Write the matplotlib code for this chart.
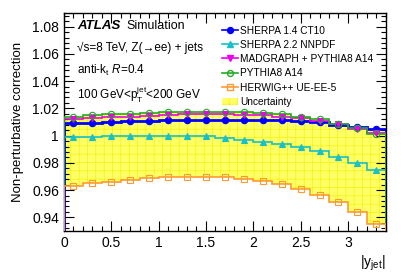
import numpy as np
import matplotlib
matplotlib.use("Agg")
import matplotlib.pyplot as plt
from matplotlib.lines import Line2D
from matplotlib.patches import Patch
from matplotlib.ticker import MultipleLocator, FuncFormatter

plt.rcParams['font.family'] = ['Liberation Sans', 'DejaVu Sans']
plt.rcParams['hatch.linewidth'] = 0.4
plt.rcParams['mathtext.fontset'] = 'custom'
plt.rcParams['mathtext.rm'] = 'Liberation Sans'
plt.rcParams['mathtext.it'] = 'Liberation Sans:italic'

edges = np.round(np.arange(0, 3.41, 0.2), 2)
centers = (edges[:-1] + edges[1:]) / 2

sherpa14 = [1.009, 1.0095, 1.010, 1.0105, 1.011, 1.0112, 1.0112, 1.0112, 1.0112,
            1.0112, 1.0112, 1.0112, 1.0108, 1.0098, 1.008, 1.0065, 1.005]
sherpa22 = [0.9987, 0.9993, 1.000, 1.000, 1.000, 1.000, 1.000, 0.9995, 0.9985,
            0.997, 0.9955, 0.994, 0.9916, 0.9884, 0.9845, 0.980, 0.9745]
madgraph = [1.012, 1.013, 1.0135, 1.014, 1.0145, 1.015, 1.0155, 1.0155, 1.0155,
            1.015, 1.0148, 1.014, 1.013, 1.011, 1.0085, 1.005, 1.002]
pythia8 = [1.014, 1.0148, 1.0155, 1.016, 1.0165, 1.017, 1.0175, 1.0175, 1.0175,
           1.017, 1.0163, 1.0155, 1.014, 1.012, 1.0087, 1.0053, 1.0014]
herwig = [0.963, 0.965, 0.9662, 0.9677, 0.9689, 0.9694, 0.9699, 0.970, 0.9696,
          0.9684, 0.9667, 0.9648, 0.961, 0.9567, 0.9513, 0.9443, 0.9355]

series = [
    ("SHERPA 1.4 CT10", sherpa14, '#0000ff', 'o', True, 2.0),
    ("SHERPA 2.2 NNPDF", sherpa22, '#18c0c8', '^', True, 1.2),
    ("MADGRAPH + PYTHIA8 A14", madgraph, '#ee00ee', 'v', True, 1.2),
    ("PYTHIA8 A14", pythia8, '#22aa22', 'o', False, 1.2),
    ("HERWIG++ UE-EE-5", herwig, '#ff9933', 's', False, 1.2),
]

fig = plt.figure(figsize=(4.07, 2.76), dpi=100)
ax = fig.add_axes([0.157, 0.163, 0.791, 0.790])

allv = np.array([sherpa14, sherpa22, madgraph, pythia8, herwig])
lo = allv.min(axis=0)
hi = allv.max(axis=0)
ax.stairs(hi, edges, baseline=lo, fill=True, facecolor='#ffff66',
          edgecolor='#f0f000', hatch='++', linewidth=0, zorder=1)

handles = []
for name, vals, col, mk, filled, lw in series:
    ax.stairs(vals, edges, color=col, linewidth=lw, zorder=3)
    ax.plot(centers, vals, linestyle='none', marker=mk, markersize=4.6,
            markerfacecolor=col if filled else 'none', markeredgecolor=col,
            markeredgewidth=0.8, zorder=4)
    handles.append(Line2D([], [], color=col, linewidth=1.2, marker=mk, markersize=4.3,
                          markerfacecolor=col if filled else 'none',
                          markeredgecolor=col))
handles.append(Patch(facecolor='#ffff66', edgecolor='#f0f000', hatch='++', linewidth=0))
labels = [s[0] for s in series] + ["Uncertainty"]

ax.set_xlim(0, 3.4)
ax.set_ylim(0.93, 1.09)
ax.xaxis.set_major_locator(MultipleLocator(0.5))
ax.xaxis.set_minor_locator(MultipleLocator(0.1))
ax.yaxis.set_major_locator(MultipleLocator(0.02))
ax.yaxis.set_minor_locator(MultipleLocator(0.004))
ax.yaxis.set_major_formatter(FuncFormatter(lambda v, p: f"{v:.2f}".rstrip('0').rstrip('.')))
ax.xaxis.set_major_formatter(FuncFormatter(lambda v, p: f"{v:g}"))
ax.tick_params(which='both', direction='in', top=True, right=True, labelsize=10)
ax.tick_params(which='major', length=7, width=0.8)
ax.tick_params(which='minor', length=3.5, width=0.8)
for sp in ax.spines.values():
    sp.set_linewidth(1.0)

ax.set_ylabel("Non-perturbative correction", fontsize=9.5, labelpad=6)
ax.text(1.0, -0.105, r"|y$_{\mathrm{jet}}$|", transform=ax.transAxes, fontsize=10,
        ha='right', va='top')

ax.text(0.04, 0.938, "ATLAS", transform=ax.transAxes, fontsize=9.5,
        fontweight='bold', style='italic', va='center')
ax.text(0.195, 0.938, "Simulation", transform=ax.transAxes, fontsize=9, va='center')
ax.text(0.04, 0.84, "√s=8 TeV, Z(→ee) + jets", transform=ax.transAxes,
        fontsize=8.5, va='center')
ax.text(0.04, 0.735, r"anti-k$_{\mathrm{t}}$ $R$=0.4", transform=ax.transAxes,
        fontsize=8.5, va='center')
ax.text(0.04, 0.625, r"100 GeV<p$_{\mathrm{T}}^{\mathrm{jet}}$<200 GeV", transform=ax.transAxes,
        fontsize=8.5, va='center')

ax.legend(handles, labels, loc='upper left', bbox_to_anchor=(0.47, 0.975), frameon=False,
          fontsize=7.3, handlelength=1.5, handletextpad=0.25, labelspacing=0.42,
          borderpad=0.2)

fig.savefig("out.png", dpi=100)
